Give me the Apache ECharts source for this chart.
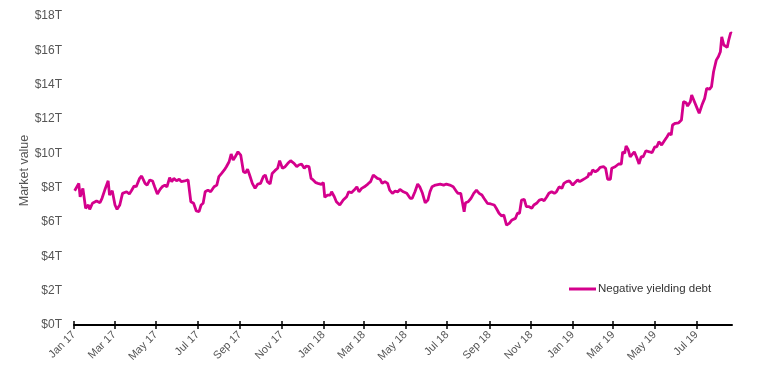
<!DOCTYPE html>
<html>
<head>
<meta charset="utf-8">
<script src="https://cdn.jsdelivr.net/npm/echarts@6/dist/echarts.min.js"></script>
<style>html,body{margin:0;padding:0;background:#fff}#c{width:757px;height:379px}</style>
</head>
<body>
<div id="c"></div>
<script>
const seriesName = 'Negative yielding debt';
const dates = [
'2017-01-02','2017-01-08','2017-01-10','2017-01-14','2017-01-18','2017-01-22','2017-01-24','2017-01-28','2017-02-03','2017-02-08',
'2017-02-11','2017-02-15','2017-02-20','2017-02-22','2017-02-26','2017-03-02','2017-03-05','2017-03-09','2017-03-13','2017-03-19',
'2017-03-23','2017-03-26','2017-03-30','2017-04-02','2017-04-07','2017-04-10','2017-04-15','2017-04-18','2017-04-22','2017-04-26',
'2017-04-29','2017-05-03','2017-05-07','2017-05-10','2017-05-14','2017-05-17','2017-05-21','2017-05-24','2017-05-27','2017-05-31',
'2017-06-04','2017-06-07','2017-06-12','2017-06-17','2017-06-21','2017-06-25','2017-06-29','2017-07-03','2017-07-06','2017-07-09',
'2017-07-12','2017-07-16','2017-07-20','2017-07-25','2017-07-29','2017-08-01','2017-08-05','2017-08-09','2017-08-12','2017-08-16',
'2017-08-19','2017-08-22','2017-08-25','2017-08-29','2017-09-02','2017-09-06','2017-09-09','2017-09-12','2017-09-15','2017-09-19',
'2017-09-23','2017-09-27','2017-10-01','2017-10-05','2017-10-08','2017-10-11','2017-10-15','2017-10-18','2017-10-22','2017-10-26',
'2017-10-29','2017-11-02','2017-11-06','2017-11-10','2017-11-14','2017-11-19','2017-11-23','2017-11-26','2017-11-30','2017-12-04',
'2017-12-07','2017-12-11','2017-12-14','2017-12-17','2017-12-21','2017-12-24','2017-12-29','2018-01-01','2018-01-03','2018-01-07',
'2018-01-11','2018-01-13','2018-01-17','2018-01-20','2018-01-25','2018-01-30','2018-02-04','2018-02-07','2018-02-11','2018-02-15',
'2018-02-19','2018-02-22','2018-02-26','2018-03-02','2018-03-07','2018-03-11','2018-03-15','2018-03-17','2018-03-21','2018-03-25',
'2018-03-28','2018-04-01','2018-04-05','2018-04-08','2018-04-12','2018-04-16','2018-04-20','2018-04-23','2018-04-28','2018-05-03',
'2018-05-08','2018-05-11','2018-05-15','2018-05-19','2018-05-22','2018-05-26','2018-05-30','2018-06-03','2018-06-06','2018-06-09',
'2018-06-14','2018-06-21','2018-06-26','2018-06-30','2018-07-05','2018-07-10','2018-07-14','2018-07-17','2018-07-21','2018-07-23',
'2018-07-26','2018-07-28','2018-08-01','2018-08-05','2018-08-09','2018-08-13','2018-08-17','2018-08-21','2018-08-24','2018-08-29',
'2018-09-03','2018-09-08','2018-09-11','2018-09-15','2018-09-19','2018-09-22','2018-09-26','2018-09-30','2018-10-04','2018-10-09',
'2018-10-12','2018-10-15','2018-10-18','2018-10-22','2018-10-25','2018-10-29','2018-11-02','2018-11-05','2018-11-09','2018-11-13',
'2018-11-17','2018-11-20','2018-11-24','2018-11-27','2018-12-01','2018-12-05','2018-12-08','2018-12-12','2018-12-16','2018-12-19',
'2018-12-23','2018-12-27','2019-01-01','2019-01-04','2019-01-08','2019-01-11','2019-01-15','2019-01-19','2019-01-23','2019-01-25',
'2019-01-27','2019-01-30','2019-02-03','2019-02-07','2019-02-10','2019-02-15','2019-02-18','2019-02-21','2019-02-25','2019-02-27',
'2019-03-04','2019-03-09','2019-03-13','2019-03-15','2019-03-18','2019-03-20','2019-03-23','2019-03-26','2019-03-28','2019-04-01',
'2019-04-05','2019-04-08','2019-04-11','2019-04-14','2019-04-18','2019-04-23','2019-04-27','2019-05-01','2019-05-04','2019-05-07',
'2019-05-11','2019-05-15','2019-05-19','2019-05-22','2019-05-25','2019-05-27','2019-05-31','2019-06-05','2019-06-09','2019-06-12',
'2019-06-16','2019-06-18','2019-06-22','2019-06-24','2019-06-28','2019-07-02','2019-07-05','2019-07-09','2019-07-13','2019-07-16',
'2019-07-20','2019-07-23','2019-07-26','2019-07-30','2019-08-02','2019-08-05','2019-08-07','2019-08-10','2019-08-12','2019-08-15',
'2019-08-17','2019-08-20','2019-08-22'
];
const values = [
7.82,8.25,7.47,7.96,6.80,6.99,6.74,7.09,7.22,7.12,
7.38,7.86,8.40,7.57,7.82,6.99,6.74,6.99,7.67,7.76,
7.63,7.82,8.10,8.05,8.54,8.68,8.25,8.15,8.45,8.39,
8.05,7.63,7.90,8.05,8.15,8.05,8.58,8.35,8.54,8.40,
8.49,8.35,8.39,8.45,7.18,7.09,6.64,6.60,6.99,7.09,
7.76,7.86,7.76,8.05,8.15,8.64,8.83,9.03,9.22,9.51,
9.96,9.61,9.80,10.09,9.90,8.93,8.87,9.07,8.74,8.25,
7.96,8.21,8.25,8.64,8.74,8.35,8.21,8.83,8.99,9.13,
9.57,9.13,9.22,9.42,9.57,9.42,9.22,9.32,9.38,9.13,
9.26,9.22,8.54,8.45,8.29,8.25,8.19,8.29,7.44,7.57,
7.57,7.76,7.47,7.18,6.99,7.28,7.47,7.76,7.71,7.86,
8.05,7.76,7.96,8.05,8.21,8.35,8.74,8.79,8.54,8.49,
8.25,8.35,8.25,7.86,7.67,7.80,7.76,7.90,7.76,7.67,
7.38,7.38,7.76,8.21,8.05,7.67,7.12,7.28,7.76,8.05,
8.15,8.21,8.15,8.21,8.15,8.05,7.82,7.67,7.67,7.76,
6.60,7.12,7.18,7.38,7.67,7.86,7.67,7.57,7.38,7.09,
7.05,6.99,6.80,6.51,6.35,6.41,5.82,5.92,6.12,6.21,
6.51,6.51,7.28,7.32,6.89,6.89,6.80,6.99,7.09,7.28,
7.32,7.24,7.47,7.67,7.76,7.67,7.76,8.05,7.96,8.25,
8.35,8.40,8.15,8.29,8.45,8.35,8.45,8.54,8.64,8.87,
8.74,9.03,8.93,9.03,9.18,9.22,9.13,8.49,8.49,9.13,
9.22,9.38,9.38,10.09,10.00,10.43,10.23,9.80,9.71,10.09,
9.71,9.38,9.80,9.80,10.15,10.09,10.04,10.38,10.38,10.68,
10.48,10.73,10.97,11.17,11.07,11.65,11.75,11.78,11.94,13.01,
12.95,12.75,13.01,13.40,13.01,12.62,12.33,12.81,13.20,13.79,
13.73,13.88,14.75,15.43,15.63,15.92,16.79,16.31,16.41,16.17,
16.56,17.02,16.99
];
const tickDates = ['2017-01-01','2017-03-01','2017-05-01','2017-07-01','2017-09-01','2017-11-01',
'2018-01-01','2018-03-01','2018-05-01','2018-07-01','2018-09-01','2018-11-01',
'2019-01-01','2019-03-01','2019-05-01','2019-07-01'];
const tickLabels = ['Jan 17','Mar 17','May 17','Jul 17','Sep 17','Nov 17',
'Jan 18','Mar 18','May 18','Jul 18','Sep 18','Nov 18',
'Jan 19','Mar 19','May 19','Jul 19'];
const xMin = '2017-01-01';
const xMax = '2019-08-22';

function ts(s){ const p = s.split('-').map(Number); return Date.UTC(p[0], p[1]-1, p[2]); }
const tickTs = tickDates.map(ts);
const labelMap = {};
tickTs.forEach((t,i)=>{ labelMap[t] = tickLabels[i]; });

const FONT = '"Liberation Sans", Arial, sans-serif';
const chart = echarts.init(document.getElementById('c'));
chart.setOption({
  animation: false,
  backgroundColor: '#fff',
  grid: { left: 74, right: 25, top: 16, bottom: 54, containLabel: false },
  legend: {
    data: [{ name: seriesName, icon: 'rect' }],
    left: 569, top: 283, padding: 0,
    itemWidth: 27, itemHeight: 3, itemGap: 0,
    textStyle: { fontFamily: FONT, fontSize: 11.5, color: '#333', padding: [0,0,0,-3] }
  },
  xAxis: [{
    type: 'value', min: ts(xMin), max: ts(xMax),
    axisLine: { show: true, lineStyle: { color: '#000', width: 2 } },
    axisTick: { show: true, customValues: tickTs, length: 4, lineStyle: { color: '#000', width: 1.5 } },
    axisLabel: {
      customValues: tickTs, rotate: 45, margin: 8,
      fontFamily: FONT, fontSize: 11, color: '#555',
      formatter: (v) => labelMap[v] || ''
    },
    splitLine: { show: false }
  }, {
    type: 'value', min: ts(xMin), max: ts(xMax), position: 'bottom', offset: 0,
    axisLine: { show: false },
    axisTick: { show: true, inside: true, customValues: tickTs, length: 4, lineStyle: { color: '#000', width: 1.5 } },
    axisLabel: { show: false },
    splitLine: { show: false }
  }],
  yAxis: {
    type: 'value', min: 0, max: 18, interval: 2,
    name: 'Market value', nameLocation: 'middle', nameGap: 43, nameMoveOverlap: false,
    nameTextStyle: { fontFamily: FONT, fontSize: 12.5, color: '#555' },
    axisLine: { show: false }, axisTick: { show: false }, splitLine: { show: false },
    axisLabel: { fontFamily: FONT, fontSize: 12, color: '#555', margin: 12, formatter: v => '$' + v + 'T' }
  },
  series: [{
    name: seriesName, type: 'line', xAxisIndex: 0,
    data: dates.map((d,i)=>[ts(d), values[i]]),
    showSymbol: false, symbol: 'none',
    lineStyle: { color: '#d4008c', width: 2.8 },
    itemStyle: { color: '#d4008c' }
  }]
});
</script>
</body>
</html>
